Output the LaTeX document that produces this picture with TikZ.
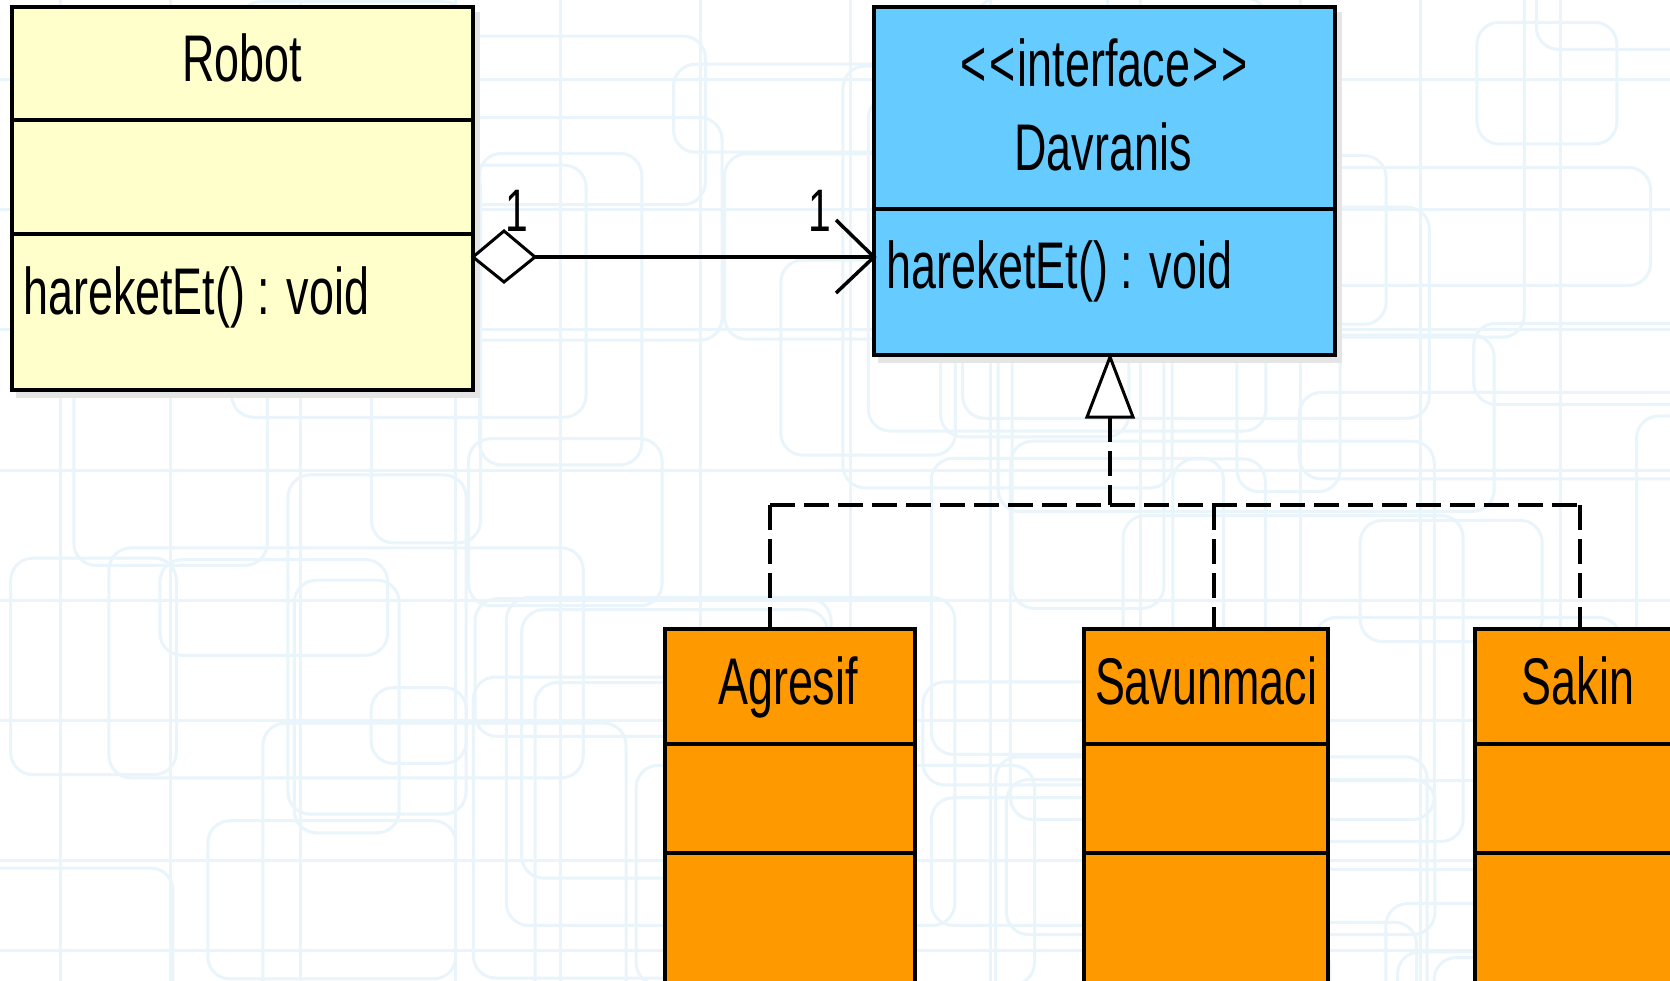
\documentclass[tikz,border=0pt]{standalone}
\usepackage{fontspec}
\setmainfont{Liberation Sans}[FakeStretch=0.68]
\usetikzlibrary{calc}
\begin{document}
\begin{tikzpicture}[x=1pt,y=-1pt,
  bgline/.style={draw={rgb,255:red,233;green,245;blue,251},line width=3pt,rounded corners=22pt},
  classbox/.style={draw=black,line width=4pt,anchor=north west,inner sep=0pt,outer sep=0pt},
  divider/.style={draw=black,line width=4pt},
  txt/.style={inner sep=0pt,font=\fontsize{66}{70}\selectfont},
  conn/.style={draw=black,line width=3.5pt},
  dashconn/.style={draw=black,line width=3.5pt,dash pattern=on 25pt off 9pt}]
\useasboundingbox (0,0) rectangle (1670,981);
\fill[white] (0,0) rectangle (1670,981);
% background pattern
\begin{scope}
\clip (0,0) rectangle (1670,981);
\pgfmathsetseed{11}
\foreach \i in {1,...,60}{
  \pgfmathsetmacro\xa{rnd*1750-60}
  \pgfmathsetmacro\ya{rnd*1050-50}
  \pgfmathsetmacro\w{90+rnd*420}
  \pgfmathsetmacro\h{70+rnd*380}
  \draw[bgline] (\xa,\ya) rectangle ++(\w,\h);
}
\foreach \xx in {60,170,300,455,560,700,850,990,1140,1300,1420,1560}{
  \draw[bgline] (\xx,0) -- (\xx,981);
}
\foreach \yy in {80,210,330,470,600,720,860,950}{
  \draw[bgline] (0,\yy) -- (1670,\yy);
}
\end{scope}
% shadows
\fill[black!10] (16,12) rectangle (480,398);
\fill[black!10] (878,12) rectangle (1342,363);
% classes
\node[classbox,fill={rgb,255:red,255;green,255;blue,204},minimum width=461pt,minimum height=383pt] (robot) at (12,7) {};
\draw[divider] (12,120) -- (473,120);
\draw[divider] (12,234) -- (473,234);
\node[txt,anchor=base] (robotname) at (242,82) {Robot};
\node[txt,anchor=base west] (robotop) at (23,315) {hareketEt() : void};

\node[classbox,fill={rgb,255:red,102;green,204;blue,255},minimum width=461pt,minimum height=348pt] (dav) at (874,7) {};
\draw[divider] (874,209) -- (1335,209);
\node[txt,anchor=base] (davst) at (1104,87) {<\kern3pt<\kern2pt interface\kern2pt>\kern3pt>};
\node[txt,anchor=base] (davname) at (1103,171) {Davranis};
\node[txt,anchor=base west] (davop) at (886,289) {hareketEt() : void};

\node[classbox,fill={rgb,255:red,255;green,153;blue,0},minimum width=250pt,minimum height=400pt] (agr) at (665,629) {};
\draw[divider] (665,744) -- (915,744);
\draw[divider] (665,853) -- (915,853);
\node[txt,anchor=base] (agrname) at (788,704) {Agresif};

\node[classbox,fill={rgb,255:red,255;green,153;blue,0},minimum width=244pt,minimum height=400pt] (sav) at (1084,629) {};
\draw[divider] (1084,744) -- (1328,744);
\draw[divider] (1084,853) -- (1328,853);
\node[txt,anchor=base] (savname) at (1206,704) {Savunmaci};

\node[classbox,fill={rgb,255:red,255;green,153;blue,0},minimum width=240pt,minimum height=400pt] (sak) at (1475,629) {};
\draw[divider] (1475,744) -- (1715,744);
\draw[divider] (1475,853) -- (1715,853);
\node[txt,anchor=base] (sakname) at (1578,704) {Sakin};

% association
\coordinate (ay) at (0,257);
\coordinate (dstart) at (robot.east |- ay);
\coordinate (dend) at (dav.west |- ay);
\draw[conn] ($(dstart)+(62,0)$) -- (dend);
\draw[draw=black,line width=3pt,fill=white] (dstart) -- ++(31,-26) -- ++(31,26) -- ++(-31,25) -- cycle;
\draw[conn] ($(dend)+(-38,-37)$) -- (dend) -- ++(-38,36);
\node[txt,anchor=base,font=\fontsize{60}{64}\selectfont] (m1) at (517,232) {1};
\node[txt,anchor=base,font=\fontsize{60}{64}\selectfont] (m2) at (820,232) {1};

% realization
\coordinate (tip) at (1110,357);
\coordinate (base) at (1110,417);
\coordinate (junc) at (1110,505);
\coordinate (hl) at (770,505);
\coordinate (hm) at (1214,505);
\coordinate (hr) at (1580,505);
\draw[dashconn] (base) -- (junc);
\draw[dashconn] (hl) -- (hr);
\draw[dashconn] (hl) -- (hl |- agr.north);
\draw[dashconn] (hm) -- (hm |- sav.north);
\draw[dashconn] (hr) -- (hr |- sak.north);
\draw[draw=black,line width=3pt,fill=white,line join=miter] (tip) -- (1087,417) -- (1133,417) -- cycle;
\end{tikzpicture}
\end{document}
